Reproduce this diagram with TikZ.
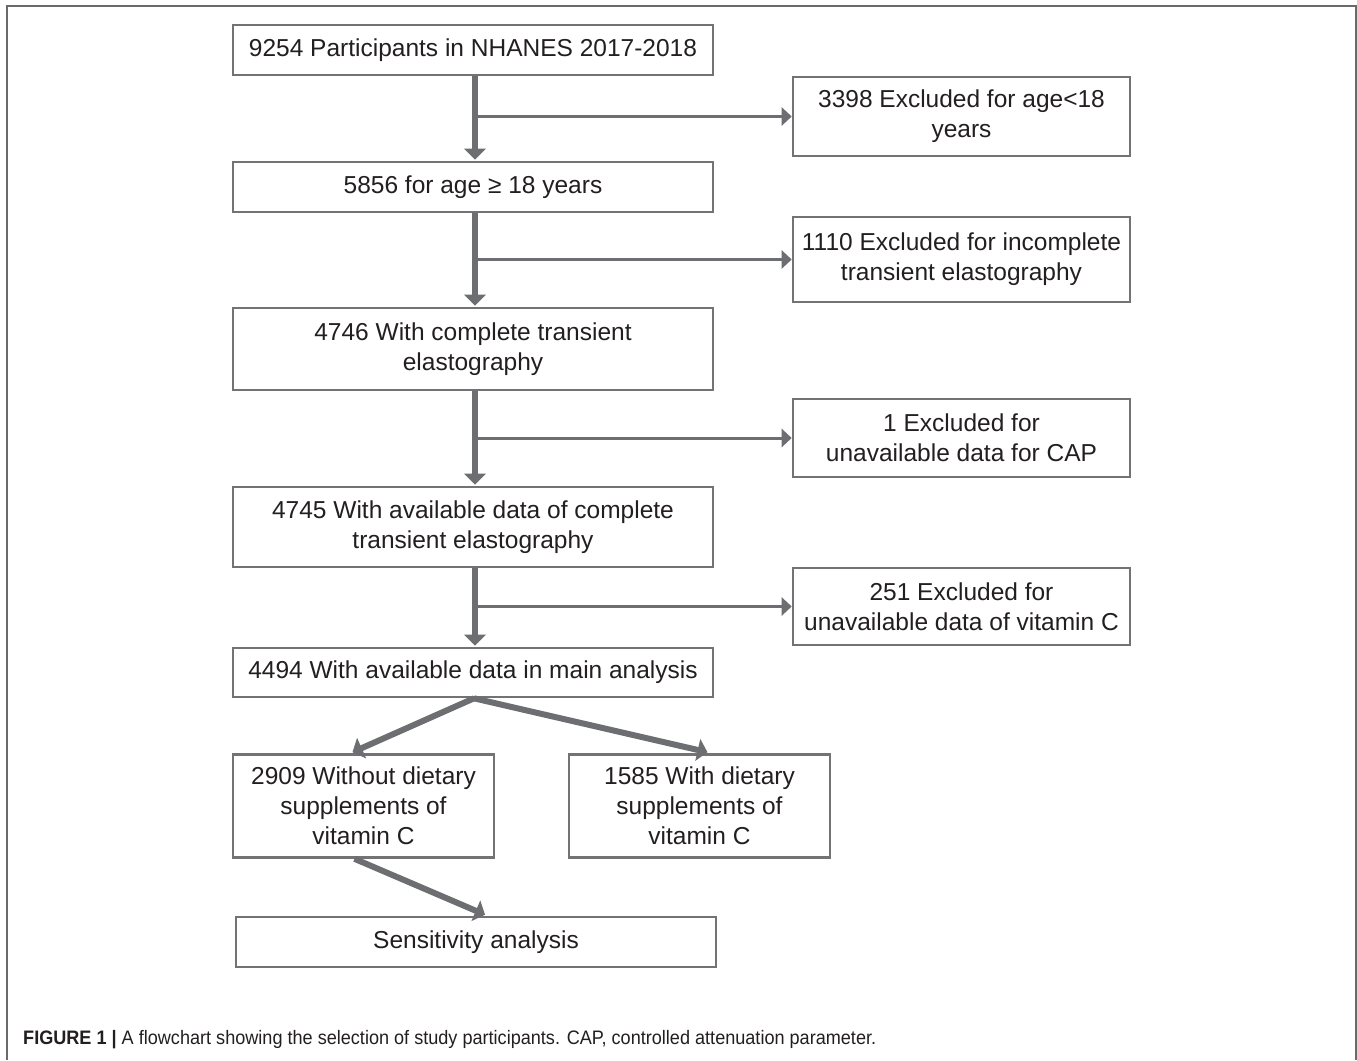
\documentclass[tikz,border=0pt]{standalone}
\usepackage{fontspec}
\setmainfont{Liberation Sans}
\usepackage{graphicx}
\usetikzlibrary{arrows.meta,calc}
\definecolor{linegray}{HTML}{6D6E71}
\definecolor{boxgray}{HTML}{737373}
\definecolor{txt}{HTML}{231F20}
\definecolor{framegray}{HTML}{6A6A6A}
\tikzset{
  flowbox/.style={draw=boxgray, line width=2.6pt, fill=white, text=txt, align=center,
    inner sep=0pt, font=\fontsize{24.5}{30}\selectfont},
  mainbox/.style={flowbox, minimum width=480pt},
  exclbox/.style={flowbox, minimum width=337pt},
  subbox/.style={flowbox, minimum width=261pt, minimum height=103pt},
  trunk/.style={draw=linegray, line width=6.5pt, -{Triangle[length=11pt,width=21pt]}},
  branch/.style={draw=linegray, line width=3pt, -{Triangle[length=10pt,width=18pt]}},
  diag/.style={draw=linegray, line width=6pt, -{Triangle[length=10pt,width=22pt]}},
  frame/.style={draw=framegray, line width=1.4pt},
}
\begin{document}
\begin{tikzpicture}[x=1pt,y=-1pt]
\useasboundingbox[fill=white] (0,0) rectangle (1357,1060);
\draw[frame] (7,1060) -- (7,6) -- (1356,6) -- (1356,1060);

\node[mainbox, minimum height=50pt] (b1) at (473,50) {9254 Participants in NHANES 2017-2018};
\node[exclbox, minimum height=79pt] (e1) at (961.5,116.5) {3398 Excluded for age<18\\years};
\node[mainbox, minimum height=50pt] (b2) at (473,187) {5856 for age ≥ 18 years};
\node[exclbox, minimum height=85pt] (e2) at (961.5,259.5) {1110 Excluded for incomplete\\transient elastography};
\node[mainbox, minimum height=82pt] (b3) at (473,349) {4746 With complete transient\\elastography};
\node[exclbox, minimum height=78pt] (e3) at (961.5,438) {1 Excluded for\\unavailable data for CAP};
\node[mainbox, minimum height=80pt] (b4) at (473,527) {4745 With available data of complete\\transient elastography};
\node[exclbox, minimum height=77pt] (e4) at (961.5,606.5) {251 Excluded for\\unavailable data of vitamin C};
\node[mainbox, minimum height=49pt] (b5) at (473,672.5) {4494 With available data in main analysis};
\node[subbox] (b6) at (363.5,806) {2909 Without dietary\\supplements of\\vitamin C};
\node[subbox] (b7) at (699.5,806) {1585 With dietary\\supplements of\\vitamin C};
\node[mainbox, minimum height=50pt] (b8) at (476,942) {Sensitivity analysis};

\draw[trunk] ($(b1.south)+(2,0)$) -- ($(b2.north)+(2,-1)$);
\draw[trunk] ($(b2.south)+(2,0)$) -- ($(b3.north)+(2,-1)$);
\draw[trunk] ($(b3.south)+(2,0)$) -- ($(b4.north)+(2,-1)$);
\draw[trunk] ($(b4.south)+(2,0)$) -- ($(b5.north)+(2,-1)$);

\coordinate (j1) at ($(b1.south)+(2,0)$);
\draw[branch] (j1 |- e1.west) -- (e1.west);
\draw[branch] (j1 |- e2.west) -- (e2.west);
\draw[branch] (j1 |- e3.west) -- (e3.west);
\draw[branch] (j1 |- e4.west) -- (e4.west);

\draw[diag] ($(b5.south)+(1,0)$) -- ($(b6.north)+(-11,-1)$);
\draw[diag] ($(b5.south)+(1,0)$) -- ($(b7.north)+(8,-1)$);
\draw[diag] ($(b6.south)+(-9,0)$) -- ($(b8.north)+(9,-1)$);

\node[anchor=west, inner sep=0pt, text=txt] (cap) at (23,1040)
  {\resizebox{853pt}{\height}{\fontsize{19.5}{22}\selectfont\textbf{FIGURE 1 |} A flowchart showing the selection of study participants. CAP, controlled attenuation parameter.}};
\end{tikzpicture}
\end{document}
